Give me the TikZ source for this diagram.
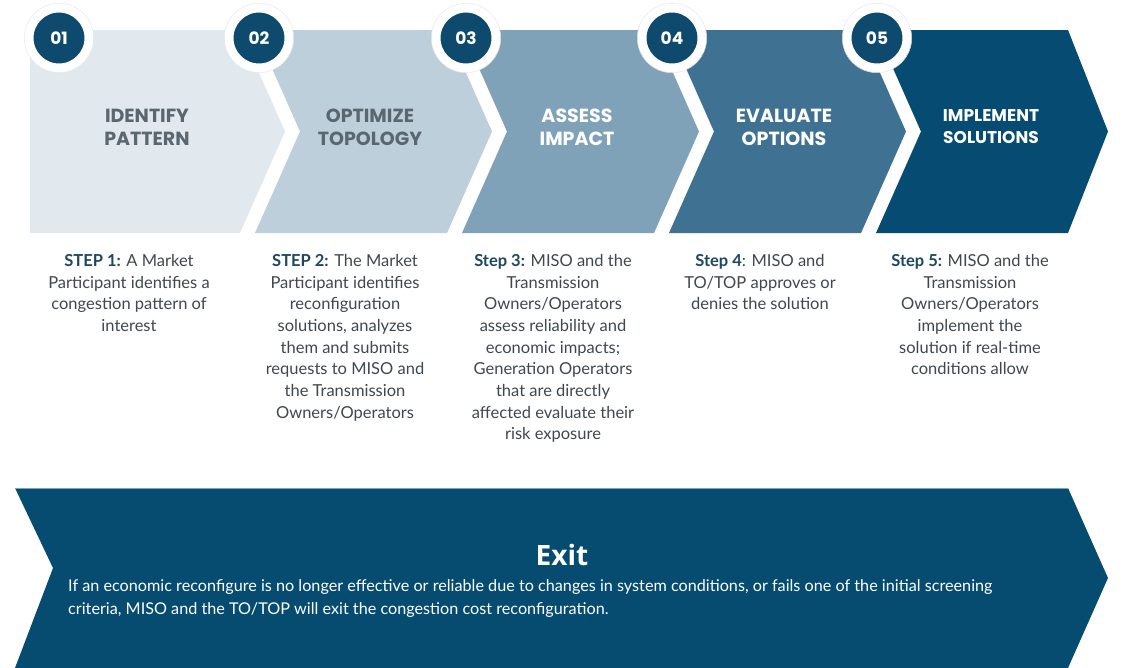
\documentclass[tikz,border=0pt]{standalone}
\usepackage{fontspec}
\setmainfont{Lato}
\newfontfamily\headfont{Poppins}
\newfontfamily\exitfont{Open Sans}
\usetikzlibrary{positioning}
\usepackage{xcolor}
\definecolor{ChevOne}{HTML}{E1E8EE}
\definecolor{ChevTwo}{HTML}{BDCFDB}
\definecolor{ChevThree}{HTML}{7FA2B8}
\definecolor{ChevFour}{HTML}{3F7292}
\definecolor{ChevFive}{HTML}{064B71}
\definecolor{ExitBlue}{HTML}{064C71}
\definecolor{NumNavy}{HTML}{0D4A6E}
\definecolor{TitleGray}{HTML}{5A6670}
\definecolor{StepNavy}{HTML}{1D4860}
\definecolor{StepGray}{HTML}{3F484E}
\newcommand{\steplabel}[1]{{\color{StepNavy}\bfseries #1}}
\tikzset{
    % Numbered badges on the chevrons
    stepnum/.style={
        circle,
        fill=NumNavy,
        draw=white,
        line width=9pt,
        minimum size=60pt,
        inner sep=0pt,
        text=white,
        font=\headfont\bfseries\fontsize{17}{17}\selectfont
    },
    badgering/.style={
        draw=black!9,
        line width=0.5pt
    },
    % Chevron titles
    titledark/.style={
        align=center,
        text=TitleGray,
        font=\headfont\bfseries\fontsize{19}{23}\selectfont
    },
    titlelight/.style={
        titledark,
        text=white
    },
    % Text under the chevrons
    steptext/.style={
        anchor=north,
        align=center,
        inner sep=0pt,
        text=StepGray,
        font=\fontsize{16.5}{21.7}\selectfont
    },
    exittitle/.style={
        text=white,
        font=\exitfont\bfseries\fontsize{28}{28}\selectfont
    },
    exittext/.style={
        anchor=north west,
        align=left,
        inner sep=0pt,
        text=white,
        font=\fontsize{16.2}{23}\selectfont
    }
}

\begin{document}
\begin{tikzpicture}[x=1pt, y=-1pt]
    \clip (0,0) rectangle (1123,667);
    \fill[white] (0,0) rectangle (1123,667);

    % Chevrons
    \fill[ChevOne] (30,30) -- (240,30) -- (285,131.5) -- (240,233) -- (30,233) -- cycle;
    \fill[ChevTwo] (255,30) -- (447,30) -- (492,131.5) -- (447,233) -- (255,233) -- (300,131.5) -- cycle;
    \fill[ChevThree] (462,30) -- (654,30) -- (699,131.5) -- (654,233) -- (462,233) -- (507,131.5) -- cycle;
    \fill[ChevFour] (669,30) -- (861,30) -- (906,131.5) -- (861,233) -- (669,233) -- (714,131.5) -- cycle;
    \fill[ChevFive] (876,30) -- (1068,30) -- (1108,131.5) -- (1068,233) -- (876,233) -- (921,131.5) -- cycle;

    % Badges
    \node[stepnum] (n1) at (59,38) {01};
    \node[stepnum] (n2) at (259,38) {02};
    \node[stepnum] (n3) at (466,38) {03};
    \node[stepnum] (n4) at (672,38) {04};
    \node[stepnum] (n5) at (877,38) {05};
    \draw[badgering] (n1) circle[radius=34.7pt];
    \draw[badgering] (n2) circle[radius=34.7pt];
    \draw[badgering] (n3) circle[radius=34.7pt];
    \draw[badgering] (n4) circle[radius=34.7pt];
    \draw[badgering] (n5) circle[radius=34.7pt];

    \node[titledark] (t1) at (147,127) {IDENTIFY\\PATTERN};
    \node[titledark] (t2) at (370,127) {OPTIMIZE\\TOPOLOGY};
    \node[titlelight] (t3) at (577,127) {ASSESS\\IMPACT};
    \node[titlelight] (t4) at (784,127) {EVALUATE\\OPTIONS};
    \node[titlelight, font=\headfont\bfseries\fontsize{17}{22}\selectfont] (t5) at (991,127) {IMPLEMENT\\SOLUTIONS};

    % Step descriptions
    \node[steptext] (s1) at (129,254) {\steplabel{STEP 1:} A Market\\Participant identifies a\\congestion pattern of\\interest};
    \node[steptext] (s2) at (345,254) {\steplabel{STEP 2:} The Market\\Participant identifies\\reconfiguration\\solutions, analyzes\\them and submits\\requests to MISO and\\the Transmission\\Owners/Operators};
    \node[steptext] (s3) at (553,254) {\steplabel{Step 3:} MISO and the\\Transmission\\Owners/Operators\\assess reliability and\\economic impacts;\\Generation Operators\\that are directly\\affected evaluate their\\risk exposure};
    \node[steptext] (s4) at (760,254) {\steplabel{Step 4}: MISO and\\TO/TOP approves or\\denies the solution};
    \node[steptext] (s5) at (970,254) {\steplabel{Step 5:} MISO and the\\Transmission\\Owners/Operators\\implement the\\solution if real-time\\conditions allow};

    % Exit band
    \fill[ExitBlue] (15,488) -- (1068,488) -- (1108,578) -- (1068,668) -- (15,668) -- (53,568) -- cycle;
    \draw[ChevThree, line width=1pt] (15,488) -- (1068,488);
    \node[exittitle] (exit) at (562,555) {Exit};
    \node[exittext] (exitnote) at (68,579) {If an economic reconfigure is no longer effective or reliable due to changes in system conditions, or fails one of the initial screening\\criteria, MISO and the TO/TOP will exit the congestion cost reconfiguration.};
\end{tikzpicture}
\end{document}
